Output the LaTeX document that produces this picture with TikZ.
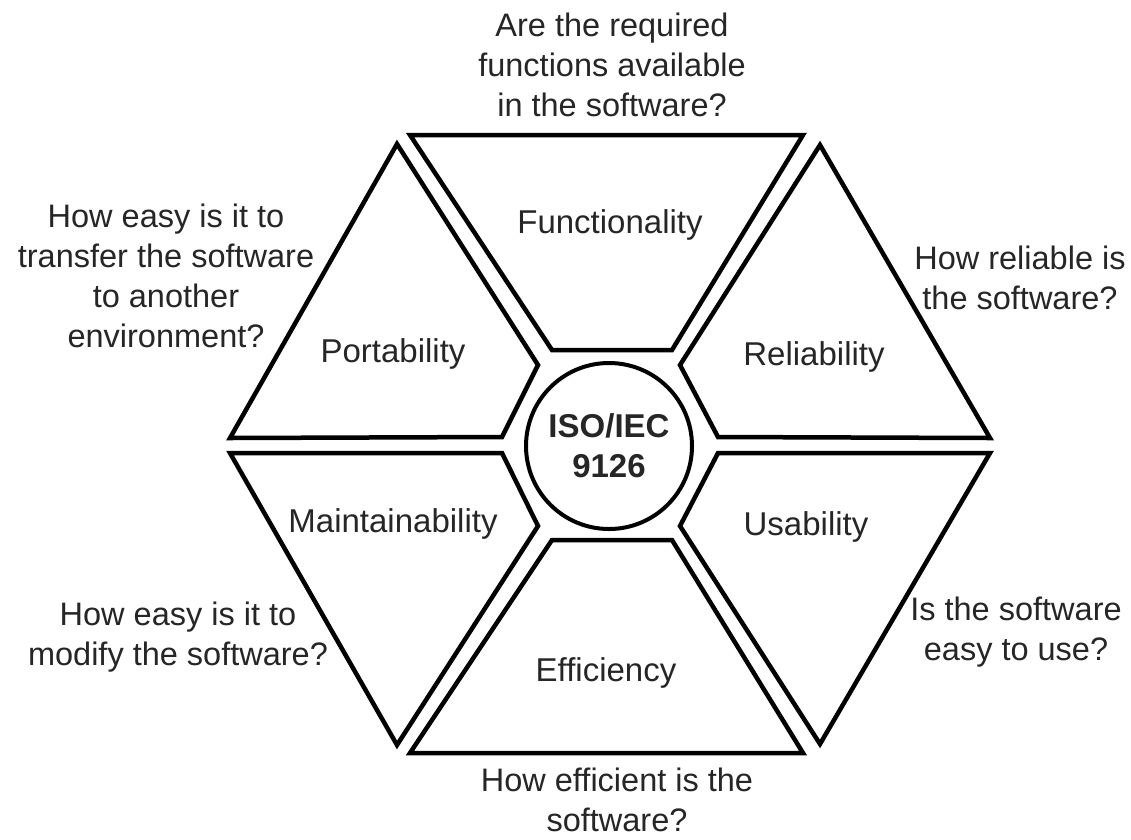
\documentclass[tikz,border=0pt]{standalone}
\usepackage{fontspec}
\setmainfont{Liberation Sans}
\begin{document}
\begin{tikzpicture}[x=1pt,y=-1pt,
  sector/.style={draw=black,line width=4.5pt,line join=miter},
  lbl/.style={text=black!85,font=\fontsize{33}{40}\selectfont,inner sep=0pt},
  q/.style={text=black!85,font=\fontsize{32.5}{40}\selectfont,align=center,inner sep=0pt}]
\useasboundingbox (0,0) rectangle (1131,839);
\fill[white] (0,0) rectangle (1131,839);
% sectors
\draw[sector] (410,135) -- (803,135) -- (672,350) -- (552,350) -- cycle;
\draw[sector] (410,753) -- (803,753) -- (672,540) -- (552,540) -- cycle;
\draw[sector] (397,144) -- (230,438) -- (502,437) -- (538,365) -- cycle;
\draw[sector] (820,145) -- (990,438) -- (718,437) -- (680,365) -- cycle;
\draw[sector] (230,453) -- (397,745) -- (538,526) -- (502,453) -- cycle;
\draw[sector] (990,453) -- (820,744) -- (680,526) -- (718,453) -- cycle;
% centre
\node[draw=black,line width=4pt,circle,minimum size=166pt,inner sep=0pt,
  align=center,text=black!85,font=\fontsize{33}{40}\selectfont\bfseries] (iso) at (609,446) {ISO/IEC\\9126};
% labels
\node[lbl] (func) at (610,225) {Functionality};
\node[lbl] (port) at (393,354) {Portability};
\node[lbl] (rel) at (814,357) {Reliability};
\node[lbl] (main) at (393,524) {Maintainability};
\node[lbl] (usa) at (806,527) {Usability};
\node[lbl] (eff) at (606,673) {Efficiency};
% questions
\node[q] (qf) at (612,65) {Are the required\\functions available\\in the software?};
\node[q] (qp) at (166,276) {How easy is it to\\transfer the software\\to another\\environment?};
\node[q] (qr) at (1020,278) {How reliable is\\the software?};
\node[q] (qm) at (178,637) {How easy is it to\\modify the software?};
\node[q] (qu) at (1016,632) {Is the software\\easy to use?};
\node[q] (qe) at (617,800) {How efficient is the\\software?};
\end{tikzpicture}
\end{document}
